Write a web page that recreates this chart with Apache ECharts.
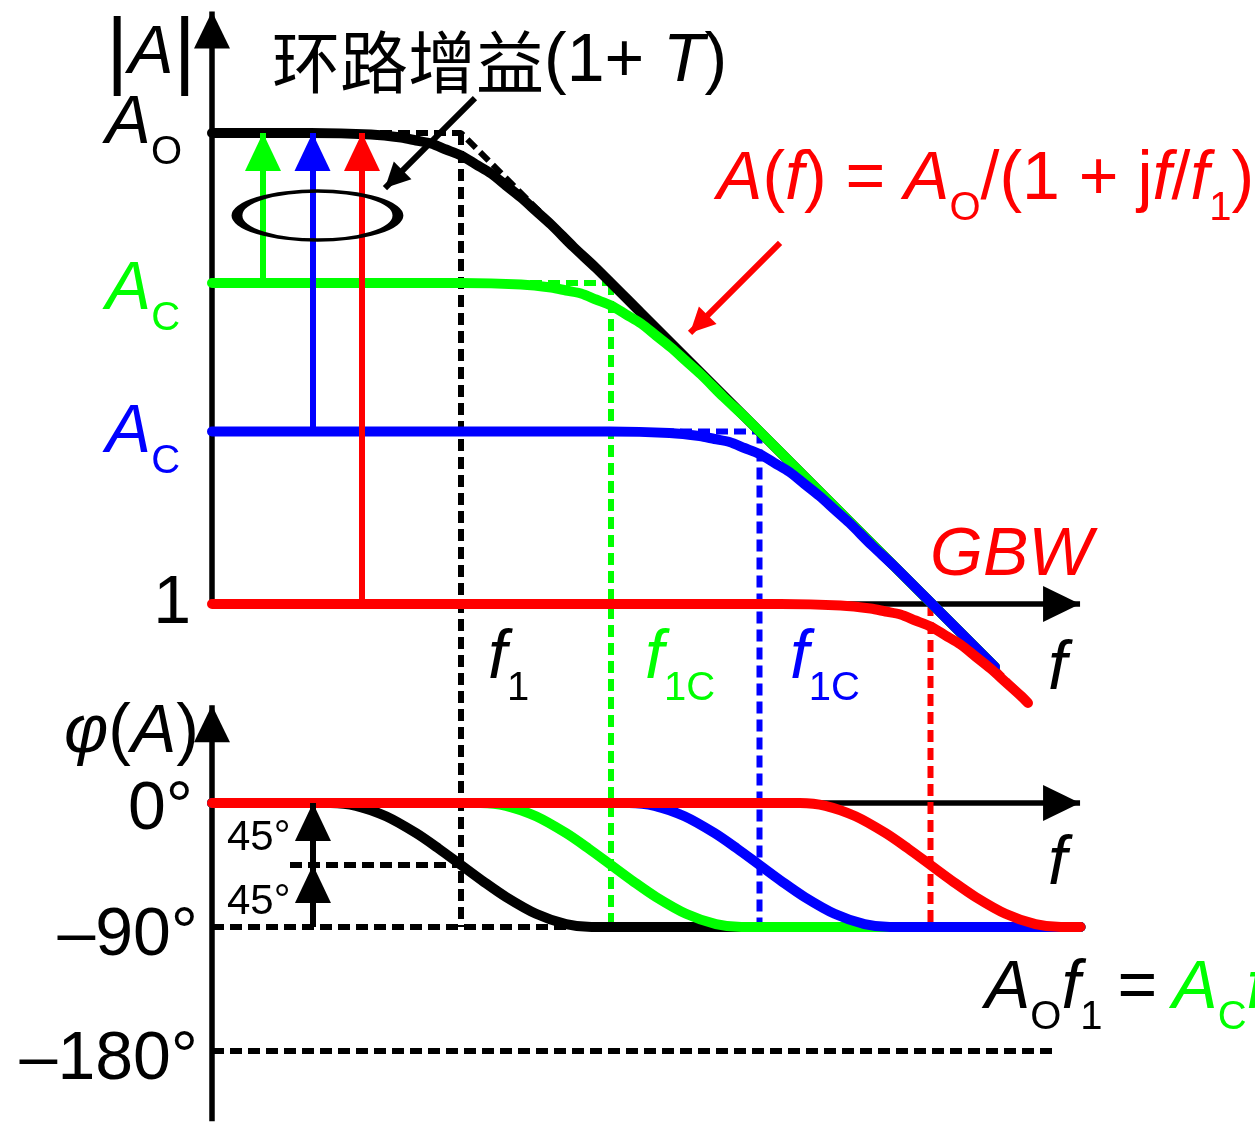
<!DOCTYPE html>
<html>
<head>
<meta charset="utf-8">
<script src="https://cdn.jsdelivr.net/npm/echarts@6/dist/echarts.min.js"></script>
<style>
  html, body { margin: 0; padding: 0; background: #fff; }
  #chart { width: 1255px; height: 1122px; }
</style>
</head>
<body>
<div id="chart"></div>
<script>
// Open-loop vs closed-loop Bode plot of a single-pole amplifier.
// x: log10 frequency (decades right of the |A| axis)
// magnitude y: log10 |A| (decades above unity gain)
// phase y: degrees

const GREEN = '#00ff00', BLUE = '#0000ff', RED = '#ff0000', BLACK = '#000000';

// gain levels and corner frequencies
const LEVEL_AO = 3.14, LEVEL_AC_G = 2.14, LEVEL_AC_B = 1.15, LEVEL_UNITY = 0;
const F1 = 1.66, F1C_G = 2.66, F1C_B = 3.65, F_GBW = 4.79;
const PHASE_FLOOR = -90, PHASE_HALF = -45, PHASE_LIMIT = -180;

// magnitude responses
const magOpen = [[0,3.14],[0.66,3.14],[1.06,3.13],[1.26,3.11],[1.36,3.09],[1.46,3.07],[1.56,3.03],[1.66,2.99],[1.76,2.93],[1.86,2.87],[1.96,2.79],[2.06,2.71],[2.16,2.62],[2.26,2.53],[2.41,2.38],[2.56,2.24],[2.86,1.94],[3.5,1.30],[4.2,0.60],[5.22,-0.42]];
const magGreen = [[0,2.14],[1.66,2.14],[2.06,2.13],[2.26,2.11],[2.36,2.09],[2.46,2.07],[2.56,2.03],[2.66,1.99],[2.76,1.93],[2.86,1.87],[2.96,1.79],[3.06,1.71],[3.16,1.62],[3.26,1.53],[3.41,1.38],[3.56,1.24],[3.86,0.94],[4.5,0.30],[5.22,-0.42]];
const magBlue = [[0,1.15],[2.65,1.15],[3.05,1.14],[3.25,1.12],[3.35,1.10],[3.45,1.08],[3.55,1.04],[3.65,1.00],[3.75,0.94],[3.85,0.88],[3.95,0.80],[4.05,0.72],[4.15,0.63],[4.25,0.54],[4.40,0.39],[4.55,0.25],[4.85,-0.05],[5.22,-0.42]];
const magRed = [[0,0],[3.79,0],[4.19,-0.01],[4.39,-0.03],[4.49,-0.05],[4.59,-0.07],[4.69,-0.11],[4.79,-0.15],[4.89,-0.21],[4.99,-0.27],[5.09,-0.35],[5.19,-0.43],[5.29,-0.52],[5.39,-0.61],[5.44,-0.66]];

// phase responses
const phOpen = [[0,0],[0.79,0],[0.96,-2],[1.16,-9.6],[1.36,-21.8],[1.51,-33],[1.66,-45],[1.81,-57],[1.96,-68.2],[2.16,-80.4],[2.36,-87.9],[2.53,-90],[5.79,-90]];
const phGreen = [[0,0],[1.79,0],[1.96,-2],[2.16,-9.6],[2.36,-21.8],[2.51,-33],[2.66,-45],[2.81,-57],[2.96,-68.2],[3.16,-80.4],[3.36,-87.9],[3.53,-90],[5.79,-90]];
const phBlue = [[0,0],[2.78,0],[2.95,-2],[3.15,-9.6],[3.35,-21.8],[3.50,-33],[3.65,-45],[3.80,-57],[3.95,-68.2],[4.15,-80.4],[4.35,-87.9],[4.52,-90],[5.79,-90]];
const phRed = [[0,0],[3.92,0],[4.09,-2],[4.29,-9.6],[4.49,-21.8],[4.64,-33],[4.79,-45],[4.94,-57],[5.09,-68.2],[5.29,-80.4],[5.49,-87.9],[5.66,-90],[5.79,-90]];

// asymptotes and reference levels (dashed)
const asymOpen = [[1.0,3.14],[1.66,3.14],[2.5,2.30]];
const asymGreen = [[2.0,2.14],[2.66,2.14],[3.5,1.30]];
const asymBlue = [[3.0,1.15],[3.65,1.15],[4.5,0.30]];
const asymRed = [[4.79,0],[5.4,-0.61]];
const phaseHalfLine = [[0.52,-45],[1.66,-45]];
const phaseFloorLine = [[0,-90],[2.6,-90]];
const phaseLimitLine = [[0,-180],[5.62,-180]];

// axis extents (arrow tips)
const MAG_X_END = 5.787, MAG_Y_END = 3.95, PH_Y_END = 71, PH_Y_START = -231;

// loop-gain arrows rise from each closed-loop level to Ao
const gainArrowX = [0.34, 0.67, 1.0];
const stepArrowX = 0.673;

const FONT = '"Liberation Sans", Arial, sans-serif';
const rich = {
  n: { fontSize: 68, fontFamily: FONT },
  e: { fontSize: 68, fontFamily: FONT, padding: [0, 15, 0, 15] },
  i: { fontSize: 68, fontFamily: FONT, fontStyle: 'italic' },
  s: { fontSize: 40, fontFamily: FONT, padding: [58, 0, 0, 0] },
  b: { fontSize: 86, fontFamily: FONT },
  k: { fontSize: 68, fontFamily: '"Noto Sans CJK SC", sans-serif' },
  d: { fontSize: 42, fontFamily: FONT },
  gi: { fontSize: 68, fontFamily: FONT, fontStyle: 'italic', color: GREEN },
  gs: { fontSize: 40, fontFamily: FONT, padding: [58, 0, 0, 0], color: GREEN }
};

const magTexts = [
  { value: [-0.107, 3.667], text: '{b||}{i|A}{b||}', align: 'right', color: BLACK },
  { value: [-0.2, 3.2], text: '{i|A}{s|O}', align: 'right', color: BLACK },
  { value: [-0.213, 2.093], text: '{i|A}{s|C}', align: 'right', color: GREEN },
  { value: [-0.213, 1.14], text: '{i|A}{s|C}', align: 'right', color: BLUE },
  { value: [-0.14, 0], text: '{n|1}', align: 'right', color: BLACK },
  { value: [1.84, -0.37], text: '{i|f}{s|1}', align: 'left', color: BLACK },
  { value: [2.887, -0.37], text: '{i|f}{s|1C}', align: 'left', color: GREEN },
  { value: [3.853, -0.37], text: '{i|f}{s|1C}', align: 'left', color: BLUE },
  { value: [5.573, -0.44], text: '{i|f}', align: 'left', color: BLACK },
  { value: [4.787, 0.32], text: '{i|GBW}', align: 'left', color: RED },
  { value: [3.367, 2.827], text: '{i|A}{n|(}{i|f}{n|) = }{i|A}{s|O}{n|/(1 + j}{i|f}{n|/}{i|f}{s|1}{n|)}', align: 'left', color: RED },
  { value: [0.4, 3.613], text: '{k|环路增益}{n|(1+ }{i|T}{n|)}', align: 'left', color: BLACK }
];
const phaseTexts = [
  { value: [-0.087, 50.8], text: '{i|φ}{n|(}{i|A}{n|)}', align: 'right', color: BLACK },
  { value: [-0.127, -5.5], text: '{n|0°}', align: 'right', color: BLACK },
  { value: [-0.093, -96.5], text: '{n|–90°}', align: 'right', color: BLACK },
  { value: [-0.093, -187], text: '{n|–180°}', align: 'right', color: BLACK },
  { value: [0.1, -25.4], text: '{d|45°}', align: 'left', color: BLACK },
  { value: [0.1, -71.8], text: '{d|45°}', align: 'left', color: BLACK },
  { value: [5.573, -45], text: '{i|f}', align: 'left', color: BLACK },
  { value: [5.153, -135], text: '{i|A}{s|O}{i|f}{s|1}{e|=}{gi|A}{gs|C}{gi|f}{gs|1C}', align: 'left', color: BLACK }
];

function curve(data, color, yAxisIndex, z) {
  return {
    type: 'line', yAxisIndex, data, symbol: 'none', smooth: 0.3,
    silent: true, animation: false, z,
    lineStyle: { color, width: 10, cap: 'round', join: 'round' }
  };
}
function dashed(data, color, yAxisIndex) {
  return {
    type: 'line', yAxisIndex, data, symbol: 'none', silent: true, animation: false, z: 2,
    lineStyle: { color, width: 6, type: [12, 6] }
  };
}
function arrows(yAxisIndex, color, width, head, segs, z) {
  return {
    type: 'line', yAxisIndex, data: [], silent: true, animation: false,
    markLine: {
      silent: true, animation: false, z,
      symbol: ['none', 'triangle'], symbolSize: head,
      symbolOffset: [[0, 0], [0, '50%']],
      label: { show: false },
      emphasis: { disabled: true },
      itemStyle: { color, opacity: 1 },
      lineStyle: { color, width, type: 'solid', opacity: 1 },
      data: segs.map(s => [{ coord: s[0] }, { coord: s[1] }])
    }
  };
}
function texts(yAxisIndex, items) {
  return {
    type: 'scatter', yAxisIndex, symbolSize: 0, silent: true, animation: false, z: 20,
    itemStyle: { opacity: 1 },
    data: items.map(t => ({
      value: t.value,
      label: {
        show: true, position: 'inside', align: t.align, verticalAlign: 'middle',
        formatter: t.text, color: t.color, opacity: 1, rich
      }
    }))
  };
}

const chart = echarts.init(document.getElementById('chart'));

const base = {
  backgroundColor: '#ffffff',
  animation: false,
  grid: { left: 62, right: 0, top: 0, bottom: 0, containLabel: false },
  xAxis: { type: 'value', min: -1, max: 6.9533, show: false },
  yAxis: [
    { type: 'value', min: -3.4533, max: 4.0267, show: false },
    { type: 'value', min: -231.5, max: 582.8, show: false }
  ]
};

const series = [
  // axes
  arrows(0, BLACK, 5.5, [36, 37], [[[0, LEVEL_UNITY], [MAG_X_END, LEVEL_UNITY]], [[0, LEVEL_UNITY], [0, MAG_Y_END]]], 1),
  arrows(1, BLACK, 5.5, [36, 37], [[[0, 0], [MAG_X_END, 0]], [[0, PH_Y_START], [0, PH_Y_END]]], 1),
  // asymptotes and reference levels
  dashed(asymOpen, BLACK, 0),
  dashed(asymGreen, GREEN, 0),
  dashed(asymBlue, BLUE, 0),
  dashed(asymRed, RED, 0),
  dashed(phaseHalfLine, BLACK, 1),
  dashed(phaseFloorLine, BLACK, 1),
  dashed(phaseLimitLine, BLACK, 1),
  // magnitude
  curve(magOpen, BLACK, 0, 3),
  curve(magGreen, GREEN, 0, 4),
  curve(magBlue, BLUE, 0, 5),
  curve(magRed, RED, 0, 6),
  // phase
  curve(phOpen, BLACK, 1, 3),
  curve(phGreen, GREEN, 1, 4),
  curve(phBlue, BLUE, 1, 5),
  curve(phRed, RED, 1, 6),
  // loop gain arrows
  arrows(0, GREEN, 6, [36, 38], [[[gainArrowX[0], LEVEL_AC_G], [gainArrowX[0], LEVEL_AO]]], 10),
  arrows(0, BLUE, 6, [36, 38], [[[gainArrowX[1], LEVEL_AC_B], [gainArrowX[1], LEVEL_AO]]], 10),
  arrows(0, RED, 6, [36, 38], [[[gainArrowX[2], LEVEL_UNITY], [gainArrowX[2], LEVEL_AO]]], 10),
  // 45° steps
  arrows(1, BLACK, 6, [36, 38], [[[stepArrowX, PHASE_FLOOR], [stepArrowX, PHASE_HALF]], [[stepArrowX, PHASE_HALF], [stepArrowX, 0]]], 10),
  // pointers
  arrows(0, BLACK, 6, [25, 25], [[[1.753, 3.373], [1.153, 2.773]]], 10),
  arrows(0, RED, 6, [25, 25], [[[3.787, 2.407], [3.187, 1.807]]], 10),
  // ring around the loop-gain arrows
  {
    type: 'scatter', yAxisIndex: 0, silent: true, animation: false, z: 11,
    symbol: 'circle', symbolSize: [161, 49],
    itemStyle: { color: 'rgba(0,0,0,0)', borderColor: BLACK, borderWidth: 6, opacity: 1 },
    data: [[0.703, 2.59]]
  },
  texts(0, magTexts),
  texts(1, phaseTexts)
];

chart.setOption(Object.assign({}, base, { series }));

// the corner-frequency markers run from each gain level down to the −90° phase line
const floorPx = chart.convertToPixel({ yAxisIndex: 1 }, PHASE_FLOOR);
const floorMag = chart.convertFromPixel({ yAxisIndex: 0 }, floorPx);
const markers = [
  [F1, LEVEL_AO, BLACK],
  [F1C_G, LEVEL_AC_G, GREEN],
  [F1C_B, LEVEL_AC_B, BLUE],
  [F_GBW, LEVEL_UNITY, RED]
];
markers.forEach(m => series.push(dashed([[m[0], m[1]], [m[0], floorMag]], m[2], 0)));

chart.setOption(Object.assign({}, base, { series }), { replaceMerge: ['series'] });
</script>
</body>
</html>
